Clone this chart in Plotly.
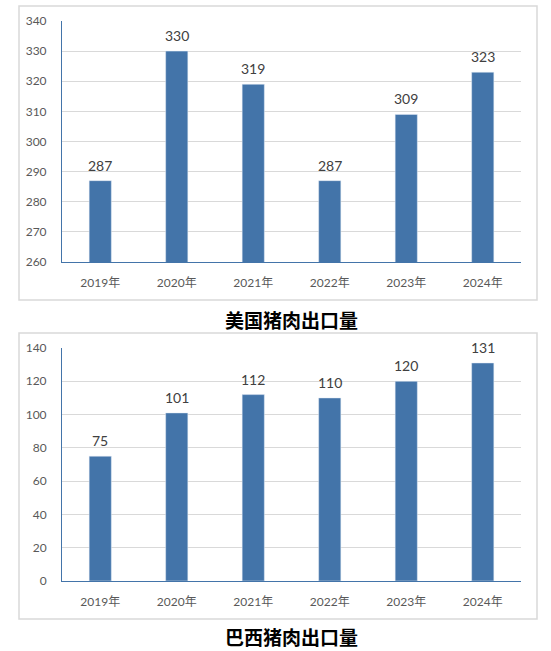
import plotly.graph_objects as go

years = ["2019年", "2020年", "2021年", "2022年", "2023年", "2024年"]
us_exports = [287, 330, 319, 287, 309, 323]
brazil_exports = [75, 101, 112, 110, 120, 131]
titles = ["美国猪肉出口量", "巴西猪肉出口量"]

W, H = 551, 651
BAR = "#4374A9"
GRID = "#D9D9D9"
TICKFONT = dict(family="Lato, Noto Sans CJK SC", size=12, color="#595959")
LABELFONT = dict(family="Lato", size=14, color="#404040")


def py(px):
    # pixel row -> paper y
    return 1 - px / H


def px_x(px):
    return px / W


fig = go.Figure()
fig.add_trace(go.Bar(x=years, y=us_exports, xaxis="x", yaxis="y",
                     marker_color=BAR, width=0.29, hoverinfo="x+y"))
fig.add_trace(go.Bar(x=years, y=brazil_exports, xaxis="x2", yaxis="y2",
                     marker_color=BAR, width=0.29, hoverinfo="x+y"))

# value labels sit a little above each bar
for xr, yr, vals in [("x", "y", us_exports), ("x2", "y2", brazil_exports)]:
    for yr_lbl, v in zip(years, vals):
        fig.add_annotation(x=yr_lbl, y=v, xref=xr, yref=yr, text=str(v),
                           showarrow=False, yanchor="bottom", yshift=5,
                           font=LABELFONT)

axis_common = dict(showline=True, linecolor=BAR, linewidth=1, tickfont=TICKFONT,
                   ticks="", fixedrange=True, automargin=False)

fig.update_layout(
    width=W, height=H,
    margin=dict(l=0, r=0, t=0, b=0, autoexpand=False),
    paper_bgcolor="white", plot_bgcolor="white",
    showlegend=False,
    xaxis=dict(domain=[px_x(62), px_x(521)], anchor="y", ticklabelstandoff=10, **axis_common),
    yaxis=dict(domain=[py(262), py(21)], anchor="x", range=[260, 340], dtick=10,
               gridcolor=GRID, ticklabelstandoff=12, **axis_common),
    xaxis2=dict(domain=[px_x(62), px_x(521)], anchor="y2", ticklabelstandoff=10, **axis_common),
    yaxis2=dict(domain=[py(581), py(348)], anchor="x2", range=[0, 140], dtick=20,
                gridcolor=GRID, ticklabelstandoff=12, **axis_common),
)

# frame around each chart
for top, bottom in [(6, 300), (333, 619)]:
    fig.add_shape(type="rect", xref="paper", yref="paper",
                  x0=px_x(19), x1=px_x(537), y0=py(bottom), y1=py(top),
                  line=dict(color="#D9D9D9", width=1.5), layer="below")

for title, row in zip(titles, [320, 636]):
    fig.add_annotation(text="<b>%s</b>" % title, xref="paper", yref="paper",
                       x=px_x(291), y=py(row), showarrow=False,
                       xanchor="center", yanchor="middle",
                       font=dict(family="Noto Sans CJK SC", size=19, color="#000000"))

# drop the default body margin so the figure sits at the window corner
fig.write_html("out.html", config={"displayModeBar": False},
               post_script="document.body.style.margin='0';")
